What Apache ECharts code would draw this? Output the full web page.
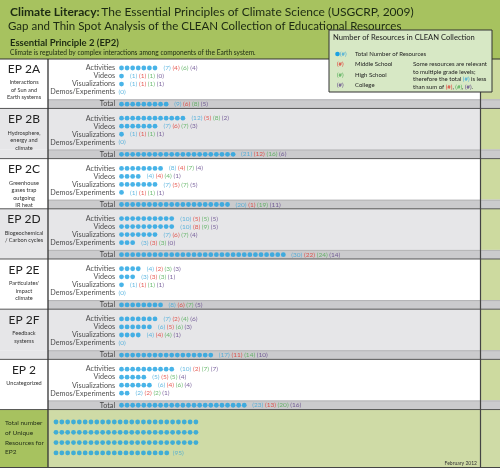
<!DOCTYPE html>
<html><head><meta charset="utf-8">
<script src="https://cdn.jsdelivr.net/npm/echarts@6/dist/echarts.min.js"></script>
<style>html,body{margin:0;padding:0;background:#fff}#c{width:500px;height:468px}</style>
</head><body><div id="c"></div>
<script>
// ---------- DATA ----------
const sectionNames = ['EP 2A','EP 2B','EP 2C','EP 2D','EP 2E','EP 2F','EP 2'];
const sectionDescs = [
  ['Interactions','of Sun and','Earth systems'],
  ['Hydrosphere,','energy and','climate'],
  ['Greenhouse','gases trap','outgoing','IR heat'],
  ['Biogeochemical','/ Carbon cycles'],
  ["Particulates'",'impact','climate'],
  ['Feedback','systems'],
  ['Uncategorized']
];
const resourceTypes = ['Activities','Videos','Visualizations','Demos/Experiments'];
// counts per section x resource type
const totalNum   = [[7,1,1,0],[12,7,1,0],[8,4,7,1],[10,10,7,3],[4,3,1,0],[7,6,4,0],[10,5,6,2]];
const middleNum  = [[4,1,1,null],[5,6,1,null],[4,4,5,1],[5,8,6,3],[2,3,1,null],[2,5,4,null],[2,5,4,2]];
const highNum    = [[6,1,1,null],[8,7,1,null],[7,4,7,1],[5,9,7,3],[3,3,1,null],[4,6,4,null],[7,5,6,2]];
const collegeNum = [[4,0,1,null],[2,3,1,null],[4,1,5,1],[5,5,4,0],[3,1,1,null],[6,3,1,null],[7,4,4,1]];
// section totals
const sectTotal   = [9,21,20,30,8,17,23];
const sectMiddle  = [6,12,1,22,6,11,13];
const sectHigh    = [8,16,19,24,7,14,20];
const sectCollege = [5,6,11,14,5,10,16];
const uniqueTotal = 95;
const uniquePerRow = 25;

// ---------- LAYOUT ----------
const W = 500, H = 468;
const X0 = 121.5, DX = 5.58;   // dot grid
const Y0 = 68, U = 8.03;       // row unit
const SEC = 6.25, TOT = 4.5;
const UX0 = 56, UDX = 5.83, UY0 = 422, UDY = 10.3;
const px = u => Y0 + u * U;
const rowY = (s, r) => s * SEC + r;
const totY = s => s * SEC + TOT;
const FONT = 'Lato, "Open Sans", sans-serif';
const C = {t:'#3aa6d9', m:'#e0332b', h:'#4aaa4f', c:'#5a3d86', dot:'#1ba1e2', txt:'#222'};

function fmt(t, m, h, c) {
  if (m == null) return `{t|(${t})}`;
  return `{t|(${t})} {m|(${m})} {h|(${h})} {c|(${c})}`;
}

const dots = [], labelPts = [], numPts = [];
sectionNames.forEach((name, s) => {
  resourceTypes.forEach((rt, r) => {
    const n = totalNum[s][r], y = rowY(s, r);
    for (let i = 0; i < n; i++) dots.push([i, y]);
    labelPts.push([-1.15, y, rt]);
    numPts.push({value:[n - 1, y, fmt(n, middleNum[s][r], highNum[s][r], collegeNum[s][r])],
                 label:{distance: n ? 8.5 : 2.5}});
  });
  const n = sectTotal[s], y = totY(s);
  for (let i = 0; i < n; i++) dots.push([i, y]);
  labelPts.push([-1.15, y, 'Total']);
  numPts.push({value:[n - 1, y, fmt(n, sectMiddle[s], sectHigh[s], sectCollege[s])], label:{distance:8}});
});

const uDots = [];
for (let k = 0; k * uniquePerRow < uniqueTotal; k++) {
  const cnt = Math.min(uniquePerRow, uniqueTotal - k * uniquePerRow);
  for (let j = 0; j < cnt; j++) uDots.push([j, k]);
}
const lastU = uDots[uDots.length - 1];

const rich = {
  t:{color:C.t, fontSize:6.5, fontFamily:FONT},
  m:{color:C.m, fontSize:6.5, fontFamily:FONT},
  h:{color:C.h, fontSize:6.5, fontFamily:FONT},
  c:{color:C.c, fontSize:6.5, fontFamily:FONT}
};

// ---------- GRAPHIC (backgrounds & static text) ----------
const g = [];
const rect = (x, y, w, h, fill, z, stroke, lw) => g.push({type:'rect', shape:{x, y, width:w, height:h},
  style:{fill, stroke: stroke || null, lineWidth: lw || 0}, z: z || 0, silent:true});
const line = (x1, y1, x2, y2, stroke, lw, z) => g.push({type:'line', shape:{x1, y1, x2, y2},
  style:{stroke, lineWidth: lw}, z: z || 1, silent:true});
const text = (x, y, t, opt) => g.push({type:'text', x, y, z: (opt && opt.z) || 3, silent:true,
  style:Object.assign({text:t, fontFamily:FONT, fontSize:7, fill:C.txt, textAlign:'left', textVerticalAlign:'middle'}, opt || {})});

const HEADER_B = 59;
rect(0, 0, W, HEADER_B, '#a7c25f');
let secTop = HEADER_B;
sectionNames.forEach((name, s) => {
  const bandTop = px(totY(s)) - 4.8, bot = px(totY(s)) + 4.3;
  const fill = s % 2 ? '#e6e6e8' : '#ffffff';
  rect(0, secTop, 480, bandTop - secTop, fill);
  rect(0, bandTop, 48, bot - bandTop, fill);
  rect(480, secTop, 20, bandTop - secTop, '#cdda9f');
  rect(48, bandTop, W - 48, bot - bandTop, '#cbcbcd');
  line(48, bandTop + 0.5, W, bandTop + 0.5, '#b4b4b6', 1);
  line(0, bot, W, bot, '#555', 1);
  const ly = px(rowY(s, 0)) + 1;
  text(24, ly, name, {fontSize:12, textAlign:'center', fill:'#222'});
  sectionDescs[s].forEach((d, i) => text(24, ly + 13.5 + i * 7.5, d, {fontSize:5.6, textAlign:'center', fill:'#333'}));
  secTop = bot;
});
rect(0, secTop, W, H - secTop, '#cfdba6');
rect(0, secTop, 48, H - secTop, '#a7c25f');
['Total number','of Unique','Resources for','EP2'].forEach((d, i) =>
  text(5, 423 + i * 9.8, d, {fontSize:6.5, fill:'#26331a'}));
line(0, HEADER_B, W, HEADER_B, '#333', 1.2);
line(48, HEADER_B, 48, H, '#333', 1.3);
line(480.5, HEADER_B, 480.5, H, '#444', 1.2);
line(0, H - 0.5, W, H - 0.5, '#444', 1);
text(477, 463, 'February 2012', {fontSize:5, textAlign:'right', fill:'#333'});

// header text
text(10, 12, '{b|Climate Literacy:} {n|The Essential Principles of Climate Science (USGCRP, 2009)}', {
  rich:{b:{fontSize:12, fontWeight:'bold', fontFamily:FONT, fill:'#1c2a12'},
        n:{fontSize:12, fontFamily:FONT, fill:'#1c2a12'}}});
text(8, 26, 'Gap and Thin Spot Analysis of the CLEAN Collection of Educational Resources', {fontSize:11.5, fill:'#1c2a12'});
text(10, 43, 'Essential Principle 2 (EP2)', {fontSize:9.5, fontWeight:'bold', fill:'#1c2a12'});
text(10, 52.5, 'Climate is regulated by complex interactions among components of the Earth system.', {fontSize:6.6, fill:'#1c2a12'});

// legend box
rect(329, 30, 163, 62, '#d7e8c5', 5, '#333', 1);
text(333, 38, 'Number of Resources in CLEAN Collection', {fontSize:7.6, z:6});
g.push({type:'circle', shape:{cx:337.5, cy:54, r:2.3}, style:{fill:C.dot}, z:6, silent:true});
text(340, 54, '(#)', {fontSize:6, fill:C.t, z:6});
text(355, 54, 'Total Number of Resources', {fontSize:6, z:6});
[['(#)', C.m, 'Middle School'], ['(#)', C.h, 'High School'], ['(#)', C.c, 'College']].forEach((a, i) => {
  text(337, 64.5 + i * 10.3, a[0], {fontSize:6, fill:a[1], z:6});
  text(355, 64.5 + i * 10.3, a[2], {fontSize:6, z:6});
});
const lr = {n:{fontSize:6, fontFamily:FONT, fill:C.txt}, t:{fontSize:6, fontFamily:FONT, fill:C.t},
  m:{fontSize:6, fontFamily:FONT, fill:C.m}, h:{fontSize:6, fontFamily:FONT, fill:C.h}, c:{fontSize:6, fontFamily:FONT, fill:C.c}};
text(413, 64.5, 'Some resources are relevant', {fontSize:6, z:6});
text(413, 72, 'to multiple grade levels;', {fontSize:6, z:6});
text(413, 79.5, '{n|therefore the total }{t|(#)}{n| is less}', {rich:lr, z:6});
text(413, 87, '{n|than sum of }{m|(#)}{n|, }{h|(#)}{n|, }{c|(#)}{n|.}', {rich:lr, z:6});

// ---------- CHART ----------
const chart = echarts.init(document.getElementById('c'), null, {renderer:'canvas'});
chart.setOption({
  animation:false,
  grid:[
    {left:0, top:0, width:W, height:H, show:false},
    {left:0, top:0, width:W, height:H, show:false}
  ],
  xAxis:[
    {type:'value', gridIndex:0, min:-X0 / DX, max:(W - X0) / DX, show:false},
    {type:'value', gridIndex:1, min:-UX0 / UDX, max:(W - UX0) / UDX, show:false}
  ],
  yAxis:[
    {type:'value', gridIndex:0, inverse:true, min:-Y0 / U, max:(H - Y0) / U, show:false},
    {type:'value', gridIndex:1, inverse:true, min:-UY0 / UDY, max:(H - UY0) / UDY, show:false}
  ],
  graphic:{elements:g},
  series:[
    {type:'scatter', xAxisIndex:0, yAxisIndex:0, data:dots, symbolSize:4.8, itemStyle:{color:C.dot}, z:3, silent:true},
    {type:'scatter', xAxisIndex:0, yAxisIndex:0, data:labelPts, symbolSize:0, z:4, silent:true,
      label:{show:true, position:'left', distance:0, fontSize:7.2, fontFamily:FONT, color:C.txt, formatter:p => p.data[2]}},
    {type:'scatter', xAxisIndex:0, yAxisIndex:0, data:numPts, symbolSize:0, z:4, silent:true,
      label:{show:true, position:'right', fontSize:6.5, fontFamily:FONT, formatter:p => p.data.value[2], rich}},
    {type:'scatter', xAxisIndex:1, yAxisIndex:1, data:uDots, symbolSize:4.8, itemStyle:{color:C.dot}, z:3, silent:true},
    {type:'scatter', xAxisIndex:1, yAxisIndex:1, data:[[lastU[0], lastU[1], '(' + uniqueTotal + ')']], symbolSize:0, z:4, silent:true,
      label:{show:true, position:'right', distance:6, fontSize:6.5, fontFamily:FONT, color:C.t, formatter:p => p.data[2]}}
  ]
});
</script>
</body></html>
